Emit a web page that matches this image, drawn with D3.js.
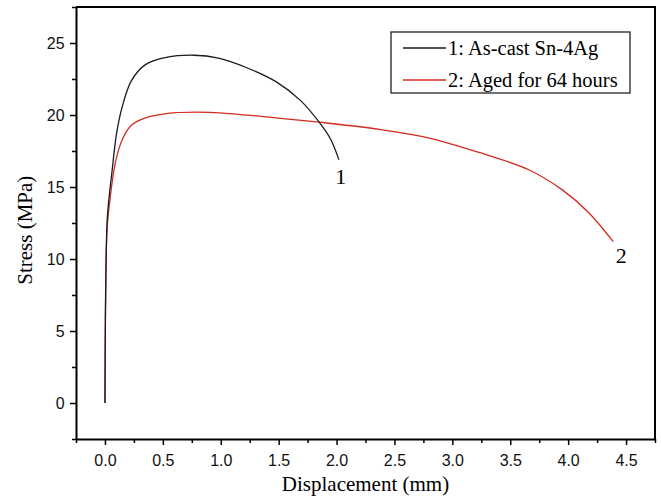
<!DOCTYPE html>
<html>
<head>
<meta charset="utf-8">
<script src="https://cdn.jsdelivr.net/npm/d3@7"></script>
<style>
  body { margin: 0; background: #fff; }
  svg { display: block; }
</style>
</head>
<body>
<svg width="661" height="499"></svg>
<script>
// displacement (mm) / stress (MPa)
const castX = [0, 0.004, 0.01, 0.02, 0.04, 0.06, 0.1, 0.15, 0.23, 0.35, 0.53, 0.77, 0.98, 1.22, 1.48, 1.69, 1.85, 1.95, 2.02];
const castY = [0, 6, 10, 12.8, 14.6, 16.0, 18.7, 20.6, 22.4, 23.5, 24.0, 24.15, 23.95, 23.3, 22.3, 21.0, 19.5, 18.3, 16.9];

const agedX = [0, 0.004, 0.01, 0.02, 0.04, 0.09, 0.15, 0.23, 0.35, 0.53, 0.79, 1.07, 1.48, 1.85, 2.37, 2.80, 3.23, 3.66, 3.95, 4.18, 4.39];
const agedY = [0, 6, 10, 12.3, 13.9, 16.7, 18.3, 19.3, 19.8, 20.1, 20.2, 20.1, 19.8, 19.5, 19.0, 18.4, 17.4, 16.2, 14.8, 13.2, 11.2];

const seriesNames = ['1: As-cast Sn-4Ag', '2: Aged for 64 hours'];
const seriesColors = ['#1a1a1a', '#d42a1f'];
const endLabels = ['1', '2'];

const xTicks = [0, 0.5, 1, 1.5, 2, 2.5, 3, 3.5, 4, 4.5];
const yTicks = [0, 5, 10, 15, 20, 25];

const margin = { left: 76, right: 6, top: 7, bottom: 60 };
const svg = d3.select('svg');
const width = 661 - margin.left - margin.right;
const height = 499 - margin.top - margin.bottom;

const x = d3.scaleLinear().domain([-0.25, 4.75]).range([0, width]);
const y = d3.scaleLinear().domain([-2.5, 27.5]).range([height, 0]);

const g = svg.append('g').attr('transform', `translate(${margin.left},${margin.top})`);

const series = [
  castX.map((d, i) => ({ x: d, y: castY[i] })),
  agedX.map((d, i) => ({ x: d, y: agedY[i] }))
];

const line = d3.line().x(d => x(d.x)).y(d => y(d.y)).curve(d3.curveCatmullRom.alpha(0.5));

// aged drawn first, cast on top
[1, 0].forEach(i => {
  g.append('path')
    .datum(series[i])
    .attr('fill', 'none')
    .attr('stroke', seriesColors[i])
    .attr('stroke-width', 1.3)
    .attr('d', line);
});

// curve end labels
const labelShift = [[2, 24], [8, 21]];
series.forEach((s, i) => {
  const last = s[s.length - 1];
  g.append('text')
    .attr('x', x(last.x) + labelShift[i][0])
    .attr('y', y(last.y) + labelShift[i][1])
    .attr('text-anchor', 'middle')
    .style('font-family', '"Liberation Serif", "Times New Roman", serif')
    .style('font-size', '22px')
    .text(endLabels[i]);
});

// minor ticks
const xMinor = d3.range(-0.25, 4.76, 0.25).filter(v => !xTicks.some(t => Math.abs(t - v) < 1e-6));
const yMinor = d3.range(-2.5, 27.6, 2.5).filter(v => !yTicks.some(t => Math.abs(t - v) < 1e-6));

const xAxis = g.append('g')
  .attr('transform', `translate(0,${height})`)
  .call(d3.axisBottom(x).tickValues(xTicks).tickFormat(d3.format('.1f')).tickSize(6).tickSizeOuter(0));
g.append('g')
  .attr('transform', `translate(0,${height})`)
  .call(d3.axisBottom(x).tickValues(xMinor).tickFormat('').tickSize(4).tickSizeOuter(0))
  .call(a => a.select('.domain').remove());

const yAxis = g.append('g')
  .call(d3.axisLeft(y).tickValues(yTicks).tickSize(6).tickSizeOuter(0));
g.append('g')
  .call(d3.axisLeft(y).tickValues(yMinor).tickFormat('').tickSize(4).tickSizeOuter(0))
  .call(a => a.select('.domain').remove());

g.selectAll('.tick line').attr('stroke', '#000').attr('stroke-width', 1.5);
g.selectAll('.domain').attr('stroke', '#000').attr('stroke-width', 2);
[xAxis, yAxis].forEach(a => a.selectAll('.tick text')
  .style('font-family', '"Liberation Sans", Arial, sans-serif')
  .style('font-size', '16px')
  .attr('fill', '#111'));
xAxis.selectAll('.tick text').attr('dy', '1.15em');
yAxis.selectAll('.tick text').attr('dx', '-0.15em');

// frame: top and right
g.append('path')
  .attr('d', `M0,0H${width}V${height}`)
  .attr('fill', 'none')
  .attr('stroke', '#000')
  .attr('stroke-width', 2);

// axis titles
svg.append('text')
  .attr('x', margin.left + x(2.25))
  .attr('y', 491)
  .attr('text-anchor', 'middle')
  .style('font-family', '"Liberation Serif", "Times New Roman", serif')
  .style('font-size', '21px')
  .text('Displacement (mm)');

svg.append('text')
  .attr('transform', `translate(32,${margin.top + y(12)}) rotate(-90)`)
  .attr('text-anchor', 'middle')
  .style('font-family', '"Liberation Serif", "Times New Roman", serif')
  .style('font-size', '21px')
  .text('Stress (MPa)');

// legend
const legend = svg.append('g').attr('transform', 'translate(391,32)');
legend.append('rect')
  .attr('width', 239).attr('height', 61)
  .attr('fill', '#fff').attr('stroke', '#222').attr('stroke-width', 1.3);
seriesNames.forEach((name, i) => {
  const row = legend.append('g').attr('transform', `translate(0,${16 + i * 32})`);
  row.append('line')
    .attr('x1', 12).attr('x2', 55)
    .attr('stroke', seriesColors[i]).attr('stroke-width', 1.3);
  row.append('text')
    .attr('x', 57).attr('y', 7)
    .style('font-family', '"Liberation Serif", "Times New Roman", serif')
    .style('font-size', '20.5px')
    .text(name);
});
</script>
</body>
</html>
